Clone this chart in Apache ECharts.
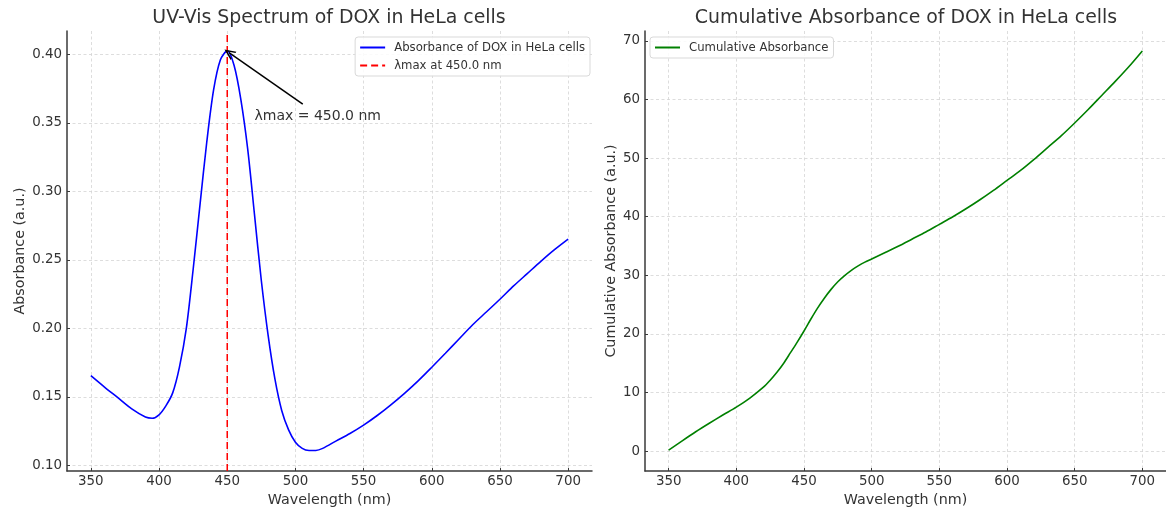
<!DOCTYPE html>
<html>
<head>
<meta charset="utf-8">
<script src="https://cdn.jsdelivr.net/npm/echarts@6/dist/echarts.min.js"></script>
<style>html,body{margin:0;padding:0;background:#fff}#c{width:1166px;height:514px}</style>
</head>
<body>
<div id="c"></div>
<script>
// ---- data ----
const absWavelength = [350,360,370,380,390,395,400,405,410,415,420,425,430,435,440,445,450,455,460,465,470,475,480,485,490,495,500,505,510,515,520,530,540,550,560,570,580,590,600,610,620,630,640,650,660,670,680,690,700];
const absorbance = [0.1655,0.1572,0.1493,0.1413,0.1354,0.1345,0.137,0.1435,0.153,0.172,0.200,0.243,0.290,0.336,0.374,0.396,0.4025,0.392,0.367,0.331,0.283,0.235,0.195,0.163,0.140,0.126,0.117,0.1125,0.111,0.111,0.1125,0.118,0.1234,0.1295,0.1365,0.1443,0.1527,0.1618,0.1717,0.1819,0.1923,0.2027,0.212,0.2213,0.231,0.240,0.249,0.2575,0.2652];

const cumWavelength = [350,360,370,380,390,400,410,420,425,430,435,440,445,450,455,460,465,470,475,480,485,490,495,500,510,520,530,540,550,560,570,580,590,600,610,620,630,640,650,660,670,680,690,700];
const cumulative = [0.15,1.75,3.3,4.75,6.15,7.5,9.05,10.9,12.1,13.45,15.0,16.8,18.6,20.5,22.5,24.4,26.1,27.6,28.9,29.95,30.85,31.6,32.25,32.8,33.9,35.0,36.2,37.4,38.7,40.0,41.4,42.9,44.5,46.2,47.9,49.8,51.8,53.8,56.0,58.3,60.7,63.1,65.6,68.3];

const lambdaMax = 450.0;
const xTicks = [350,400,450,500,550,600,650,700];
const absTicks = [0.10,0.15,0.20,0.25,0.30,0.35,0.40];
const cumTicks = [0,10,20,30,40,50,60,70];

const titles = ['UV-Vis Spectrum of DOX in HeLa cells','Cumulative Absorbance of DOX in HeLa cells'];
const seriesNames = ['Absorbance of DOX in HeLa cells','λmax at 450.0 nm','Cumulative Absorbance'];
const annotationText = 'λmax = 450.0 nm';

// ---- chart ----
const FONT = 'DejaVu Sans';
const TXT = '#333333';
const absRange = [0.0960, 0.4170];
const cumRange = [-3.4, 71.7];

function zip(a,b){return a.map((v,i)=>[v,b[i]]);}

const split = {show:true, lineStyle:{color:'#d4d4d4', width:0.8, type:[3,2.5]}};
function xAxis(gi){
  return {
    type:'value', gridIndex:gi, min:332.5, max:717.5,
    name:'Wavelength (nm)', nameLocation:'middle', nameGap:22,
    nameTextStyle:{fontFamily:FONT, fontSize:14.3, color:TXT},
    axisLine:{show:true, onZero:false, lineStyle:{color:'#3a3a3a', width:1.5}},
    axisTick:{show:true, inside:true, length:3, customValues:xTicks, lineStyle:{color:'#3a3a3a', width:1}},
    axisLabel:{customValues:xTicks, fontFamily:FONT, fontSize:13.4, color:TXT, margin:4},
    splitLine:split
  };
}
function yAxis(gi, range, ticks, name, gap, fmt){
  return {
    type:'value', gridIndex:gi, min:range[0], max:range[1],
    name:name, nameLocation:'middle', nameGap:gap,
    nameTextStyle:{fontFamily:FONT, fontSize:14.3, color:TXT},
    axisLine:{show:true, onZero:false, lineStyle:{color:'#3a3a3a', width:1.5}},
    axisTick:{show:true, inside:true, length:3, customValues:ticks, lineStyle:{color:'#3a3a3a', width:1}},
    axisLabel:{customValues:ticks, fontFamily:FONT, fontSize:13.4, color:TXT, margin:5, formatter:fmt},
    splitLine:split
  };
}

const legendCommon = {
  orient:'vertical', itemWidth:25, itemHeight:12, itemGap:5,
  padding:[4,5,4,4], borderColor:'#d9d9d9', borderWidth:1, borderRadius:3,
  backgroundColor:'rgba(255,255,255,0.85)',
  itemStyle:{opacity:0},
  textStyle:{fontFamily:FONT, fontSize:11.7, color:TXT, lineHeight:13, padding:[0,0,0,4]}
};

const option = {
  animation:false,
  backgroundColor:'#ffffff',
  grid:[
    {left:67, width:525, top:31, height:440},
    {left:645, width:524, top:31, height:440}
  ],
  xAxis:[xAxis(0), xAxis(1)],
  yAxis:[
    yAxis(0, absRange, absTicks, 'Absorbance (a.u.)', 40, v=>v.toFixed(2)),
    yAxis(1, cumRange, cumTicks, 'Cumulative Absorbance (a.u.)', 27, v=>String(Math.round(v)))
  ],
  legend:[
    Object.assign({}, legendCommon, {data:[seriesNames[0], seriesNames[1]], right:576, top:37}),
    Object.assign({}, legendCommon, {data:[seriesNames[2]], left:650, top:37})
  ],
  graphic:[
    {type:'text', style:{text:titles[0], x:329, y:18.5, align:'center', verticalAlign:'middle', font:'18.9px "DejaVu Sans"', fill:TXT}},
    {type:'text', style:{text:titles[1], x:906, y:18.5, align:'center', verticalAlign:'middle', font:'18.9px "DejaVu Sans"', fill:TXT}}
  ],
  series:[
    {
      name:seriesNames[0], type:'line', xAxisIndex:0, yAxisIndex:0,
      data:zip(absWavelength, absorbance), showSymbol:false, symbol:'none',
      smooth:0.3,
      lineStyle:{color:'#0000ff', width:1.6}, itemStyle:{color:'#0000ff'}, z:3,
      markLine:{
        silent:true, animation:false,
        symbol:['none','path://M5,0 L10,10 L8.4,10 L5,3.2 L1.6,10 L0,10 Z'],
        symbolSize:[10,11],
        lineStyle:{color:'#000000', width:1.5, type:'solid'},
        label:{show:false},
        data:[[{coord:[505.4,0.3637]},{coord:[451.3,0.4012]}]]
      },
      markPoint:{
        silent:true, animation:false, symbol:'circle', symbolSize:0,
        label:{show:true, formatter:annotationText, position:[0,0], align:'left', verticalAlign:'bottom',
               fontFamily:FONT, fontSize:14, color:TXT},
        data:[{coord:[470,0.3495]}]
      }
    },
    {
      name:seriesNames[1], type:'line', xAxisIndex:0, yAxisIndex:0,
      data:[[lambdaMax, absRange[0]],[lambdaMax, absRange[1]]], showSymbol:false, symbol:'none',
      lineStyle:{color:'#ff0000', width:1.5, type:[7,4]}, itemStyle:{color:'#ff0000'}, z:4
    },
    {
      name:seriesNames[2], type:'line', xAxisIndex:1, yAxisIndex:1,
      data:zip(cumWavelength, cumulative), showSymbol:false, symbol:'none',
      smooth:0.3,
      lineStyle:{color:'#008000', width:1.6}, itemStyle:{color:'#008000'}, z:3
    }
  ]
};
const chart = echarts.init(document.getElementById('c'), null, {renderer:'canvas'});
chart.setOption(option);
</script>
</body>
</html>
